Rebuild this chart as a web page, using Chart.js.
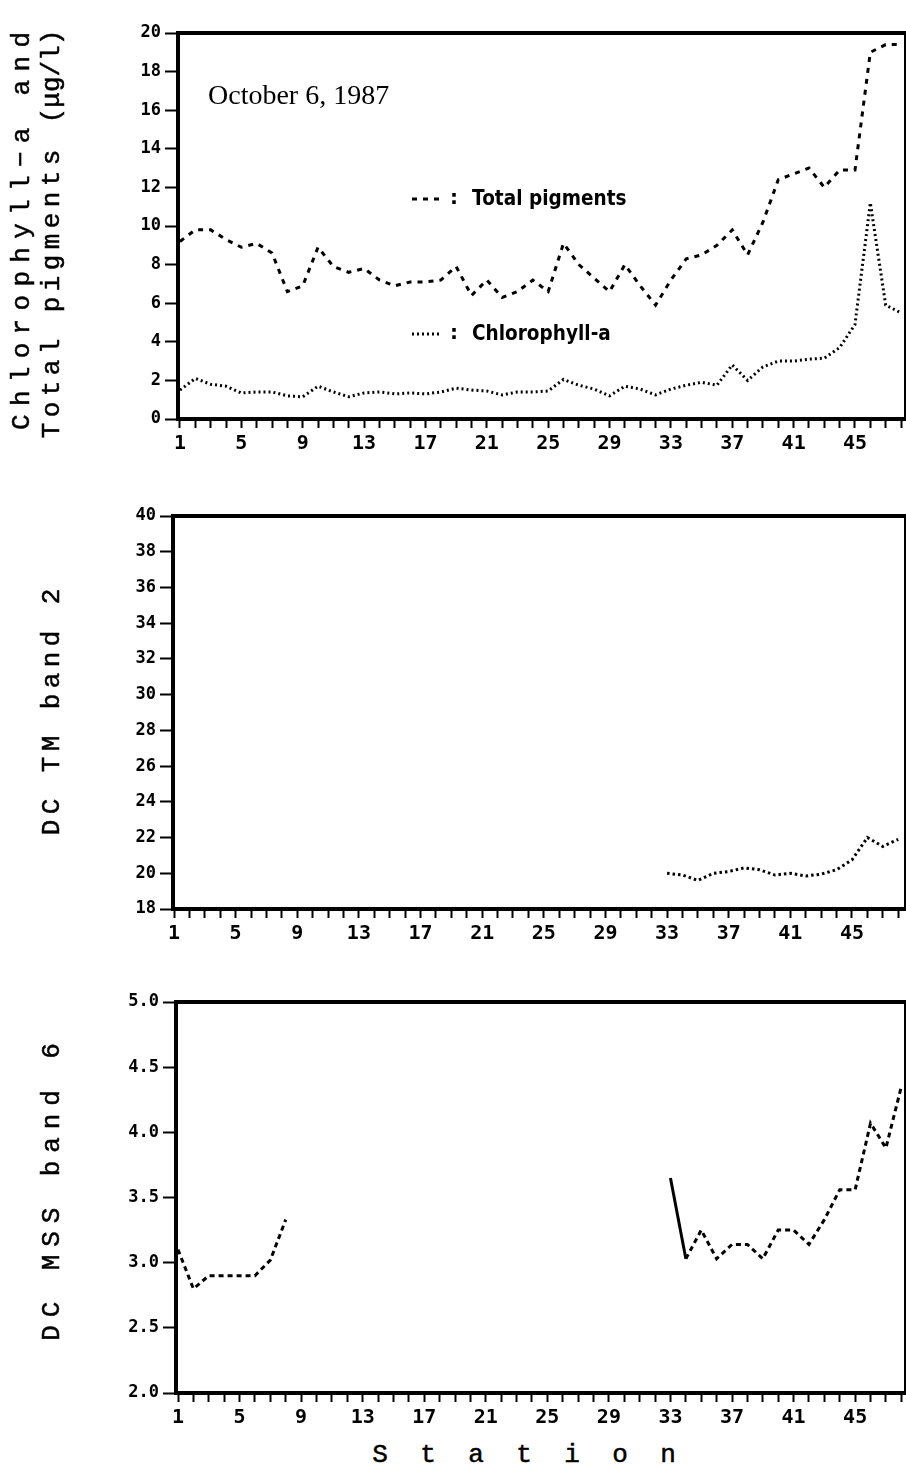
<!DOCTYPE html>
<html><head><meta charset="utf-8">
<script src="https://cdn.jsdelivr.net/npm/chart.js@4.4.1/dist/chart.umd.min.js"></script>
<style>
html,body{margin:0;padding:0;background:#fff;}
#wrap{position:relative;width:906px;height:1474px;overflow:hidden;background:#fff;}
canvas{position:absolute;left:0;}
.t{position:absolute;white-space:nowrap;font-family:"Liberation Mono",monospace;font-size:26px;color:#000;line-height:1;-webkit-text-stroke:0.5px #000;}
.rot{transform:translate(-50%,-50%) rotate(-90deg);}
.hor{transform:translate(-50%,-50%);}
</style></head>
<body><div id="wrap">
<canvas id="c1" width="906" height="470" style="top:0px"></canvas>
<canvas id="c2" width="906" height="480" style="top:480px"></canvas>
<canvas id="c3" width="906" height="480" style="top:960px"></canvas>
<div class="t rot" style="left:22px;top:231px;letter-spacing:8.3px;padding-left:8.3px">Chlorophyll−a and</div>
<div class="t rot" style="left:52px;top:234px;"><span style="letter-spacing:5.4px">Total pigments </span><span>(μg/l)</span></div>
<div class="t rot" style="left:52px;top:712px;letter-spacing:5.4px;padding-left:5.4px">DC TM band 2</div>
<div class="t rot" style="left:52px;top:1192px;letter-spacing:7.9px;padding-left:7.9px">DC MSS band 6</div>
<div class="t hor" style="left:524px;top:1455px;letter-spacing:32.4px;padding-left:32.4px">Station</div>
</div>
<script>
// ---- data ----
const stations = [1,2,3,4,5,6,7,8,9,10,11,12,13,14,15,16,17,18,19,20,21,22,23,24,25,26,27,28,29,30,31,32,33,34,35,36,37,38,39,40,41,42,43,44,45,46,47,48];
const labelledStations = [1,5,9,13,17,21,25,29,33,37,41,45];
const totalPigments = [9.2,9.8,9.8,9.3,8.9,9.1,8.6,6.6,6.9,8.9,7.9,7.6,7.8,7.2,6.9,7.1,7.1,7.2,7.9,6.4,7.2,6.3,6.6,7.2,6.6,9.1,8.0,7.3,6.6,8.0,6.9,5.9,7.2,8.3,8.5,9.0,9.8,8.5,10.2,12.4,12.7,13.0,12.0,12.9,12.9,19.0,19.4,19.4];
const chlorophyllA = [1.5,2.1,1.8,1.7,1.35,1.4,1.4,1.2,1.15,1.7,1.4,1.15,1.35,1.4,1.3,1.35,1.3,1.4,1.6,1.5,1.45,1.25,1.4,1.4,1.45,2.05,1.75,1.55,1.2,1.7,1.55,1.25,1.55,1.75,1.9,1.75,2.8,2.0,2.7,3.0,3.0,3.1,3.15,3.7,4.9,11.2,5.9,5.5];
const tmBand2 = [null,null,null,null,null,null,null,null,null,null,null,null,null,null,null,null,null,null,null,null,null,null,null,null,null,null,null,null,null,null,null,null,20.0,19.9,19.6,20.0,20.1,20.3,20.2,19.9,20.0,19.85,19.95,20.2,20.75,22.0,21.5,21.9];
const mssBand6 = [3.1,2.8,2.9,2.9,2.9,2.9,3.02,3.33,null,null,null,null,null,null,null,null,null,null,null,null,null,null,null,null,null,null,null,null,null,null,null,null,3.65,3.03,3.25,3.03,3.14,3.14,3.03,3.25,3.25,3.14,3.33,3.56,3.56,4.07,3.88,4.35];
const panel1Ticks = [0,2,4,6,8,10,12,14,16,18,20];
const panel2Ticks = [18,20,22,24,26,28,30,32,34,36,38,40];
const panel3Ticks = [2.0,2.5,3.0,3.5,4.0,4.5,5.0];

const pts = vals => stations.map((s,i)=>({x:s, y:vals[i]}));
const tickFontY = {family:"'DejaVu Sans Mono', monospace", weight:'bold', size:17};
const tickFontX = {family:"'DejaVu Sans Mono', monospace", weight:'bold', size:20};

const framePlugin = {
  id:'frame',
  afterDraw(chart){
    const {ctx, chartArea:a} = chart;
    ctx.save();
    ctx.strokeStyle='#000';
    ctx.lineWidth=4;
    ctx.beginPath(); ctx.moveTo(a.left-2, a.top); ctx.lineTo(a.right+2, a.top); ctx.stroke();
    ctx.lineWidth=2;
    ctx.beginPath(); ctx.moveTo(a.right, a.top); ctx.lineTo(a.right, a.bottom); ctx.stroke();
    ctx.restore();
  }
};

const annotPlugin = {
  id:'annot',
  afterDatasetsDraw(chart){
    const ctx = chart.ctx;
    ctx.save();
    ctx.fillStyle='#000'; ctx.strokeStyle='#000';
    ctx.textBaseline='middle'; ctx.textAlign='left';
    ctx.font = "28px 'Liberation Serif', serif";
    ctx.fillText('October 6, 1987', 208, 97);
    const ds = chart.data.datasets;
    const items = [[ds[0], 199], [ds[1], 334]];
    items.forEach(([d, y]) => {
      ctx.lineWidth = 3;
      ctx.setLineDash(d.borderDash);
      ctx.beginPath(); ctx.moveTo(412, y); ctx.lineTo(442, y); ctx.stroke();
      ctx.setLineDash([]);
      ctx.font = "bold 20px 'DejaVu Sans', sans-serif";
      ctx.fillText(':', 450, y);
      ctx.save();
      ctx.translate(472, y);
      ctx.scale(0.84, 1);
      ctx.font = "bold 22px 'DejaVu Sans', sans-serif";
      ctx.fillText(d.label, 0, 0);
      ctx.restore();
    });
    ctx.restore();
  }
};

function makeChart(id, o){
  return new Chart(document.getElementById(id), {
    type:'line',
    data:{datasets:o.datasets},
    options:{
      responsive:false, animation:false, devicePixelRatio:1,
      layout:{padding:{left:0,right:1,top:o.padTop,bottom:o.padBottom}},
      plugins:{legend:{display:false}, tooltip:{enabled:false}},
      elements:{point:{radius:0}, line:{tension:0, borderCapStyle:'butt'}},
      scales:{
        x:{type:'linear', min:o.xMin, max:o.xMax,
          afterBuildTicks:s=>{ s.ticks = stations.map(v=>({value:v})); },
          afterFit:s=>{ s.height = 45; },
          ticks:{autoSkip:false, maxRotation:0, minRotation:0, padding:4, color:'#000', font:tickFontX,
            callback:v=> labelledStations.includes(v) ? String(v) : ''},
          grid:{drawOnChartArea:false, drawTicks:true, tickLength:9, tickWidth:2, tickColor:'#000'},
          border:{display:true, color:'#000', width:4}
        },
        y:{min:o.yMin, max:o.yMax,
          afterBuildTicks:s=>{ s.ticks = o.yTicks.map(v=>({value:v})); },
          afterFit:s=>{ s.width = o.left; },
          ticks:{padding:4, color:'#000', font:tickFontY, callback:o.yFmt},
          grid:{drawOnChartArea:false, drawTicks:true, tickLength:13, tickWidth:2, tickColor:'#000'},
          border:{display:true, color:'#000', width:4}
        }
      }
    },
    plugins:[framePlugin].concat(o.plugins||[])
  });
}

makeChart('c1', {
  left:178, padTop:33, padBottom:6, xMin:0.87, xMax:48.26, yMin:0, yMax:20, yTicks:panel1Ticks,
  yFmt:v=>String(v),
  datasets:[
    {label:'Total pigments', data:pts(totalPigments), borderColor:'#000', borderWidth:3, borderDash:[5,6], fill:false},
    {label:'Chlorophyll-a', data:pts(chlorophyllA), borderColor:'#000', borderWidth:3, borderDash:[2,3], fill:false}
  ],
  plugins:[annotPlugin]
});

makeChart('c2', {
  left:173, padTop:36, padBottom:6, xMin:0.935, xMax:48.44, yMin:18, yMax:40, yTicks:panel2Ticks,
  yFmt:v=>String(v),
  datasets:[
    {label:'DC TM band 2', data:pts(tmBand2), borderColor:'#000', borderWidth:3, borderDash:[2.5,3], fill:false, spanGaps:false}
  ]
});

makeChart('c3', {
  left:176, padTop:42, padBottom:2, xMin:0.87, xMax:48.24, yMin:2, yMax:5, yTicks:panel3Ticks,
  yFmt:v=>v.toFixed(1),
  datasets:[
    {label:'DC MSS band 6', data:pts(mssBand6), borderColor:'#000', borderWidth:3, borderDash:[5,4], fill:false, spanGaps:false,
     segment:{borderDash:c=> c.p0DataIndex===32 ? [] : [5,4]}}
  ]
});
</script>
</body></html>
